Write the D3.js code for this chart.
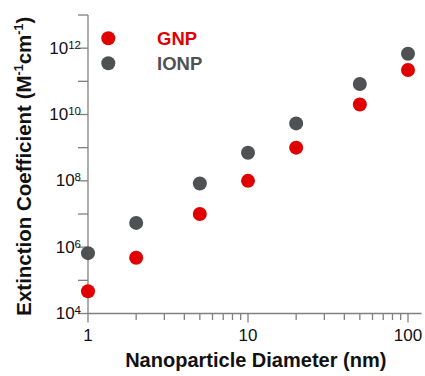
<!DOCTYPE html>
<html>
<head>
<meta charset="utf-8">
<script src="https://cdn.jsdelivr.net/npm/d3@7"></script>
<style>
  html, body { margin: 0; padding: 0; background: #fff; }
  svg { display: block; font-family: "Liberation Sans", Arial, sans-serif; }
</style>
</head>
<body>
<svg id="chart" width="425" height="376"></svg>
<script>
// ---- data ----
const diameters = [1, 2, 5, 10, 20, 50, 100];
const gnpValues = [4.7e4, 4.8e5, 1.0e7, 1.0e8, 1.0e9, 2.0e10, 2.2e11];
const ionpValues = [6.6e5, 5.4e6, 8.3e7, 7.0e8, 5.4e9, 8.3e10, 6.8e11];
const seriesNames = ["GNP", "IONP"];
const seriesColors = ["#e10000", "#505153"];
const xTickValues = [1, 10, 100];
const xTickLabels = ["1", "10", "100"];
const yTickExponents = [4, 6, 8, 10, 12];
const yMinorExponents = [5, 7, 9, 11, 13];
const xTitle = "Nanoparticle Diameter (nm)";

// ---- layout ----
const svg = d3.select("#chart");
const axisColor = "#808080";
const x = d3.scaleLog().domain([1, 100]).range([88, 408]);
const y = d3.scaleLog().domain([1e4, 1e13]).range([313.5, 15]);
const xEnd = 121.5;

// x axis
const xMinor = [];
for (let d = 1; d <= 1; d++) {}
[1, 10].forEach(b => { for (let k = 2; k <= 9; k++) xMinor.push(b * k); });

const gx = svg.append("g");
gx.append("line")
  .attr("x1", x(1)).attr("x2", x(xEnd))
  .attr("y1", y(1e4)).attr("y2", y(1e4))
  .attr("stroke", axisColor).attr("stroke-width", 1.3);
gx.selectAll(".xmaj").data(xTickValues).enter().append("line")
  .attr("x1", d => x(d)).attr("x2", d => x(d))
  .attr("y1", y(1e4)).attr("y2", y(1e4) + 9)
  .attr("stroke", axisColor).attr("stroke-width", 1.3);
gx.selectAll(".xmin").data(xMinor).enter().append("line")
  .attr("x1", d => x(d)).attr("x2", d => x(d))
  .attr("y1", y(1e4)).attr("y2", y(1e4) + 6.5)
  .attr("stroke", axisColor).attr("stroke-width", 1.3);
gx.selectAll(".xlab").data(xTickValues).enter().append("text")
  .attr("x", d => x(d)).attr("y", y(1e4) + 27)
  .attr("text-anchor", "middle")
  .attr("font-size", 17).attr("fill", "#111")
  .text((d, i) => xTickLabels[i]);

// y axis
const gy = svg.append("g");
gy.append("line")
  .attr("x1", x(1)).attr("x2", x(1))
  .attr("y1", y(1e13)).attr("y2", y(1e4))
  .attr("stroke", axisColor).attr("stroke-width", 1.3);
gy.selectAll(".ytk").data(yTickExponents.concat(yMinorExponents)).enter().append("line")
  .attr("x1", x(1) - 10).attr("x2", x(1))
  .attr("y1", d => y(Math.pow(10, d))).attr("y2", d => y(Math.pow(10, d)))
  .attr("stroke", axisColor).attr("stroke-width", 1.3);
const ylab = gy.selectAll(".ylab").data(yTickExponents).enter().append("text")
  .attr("x", x(1) - 7).attr("y", d => y(Math.pow(10, d)) + 5.5)
  .attr("text-anchor", "end")
  .attr("font-size", 17).attr("fill", "#111");
ylab.append("tspan").text("10");
ylab.append("tspan").attr("font-size", 11.5).attr("dy", -5).text(d => d);

// points
const series = [gnpValues, ionpValues];
series.forEach((vals, si) => {
  svg.append("g").selectAll("circle").data(vals).enter().append("circle")
    .attr("cx", (d, i) => x(diameters[i]))
    .attr("cy", d => y(d))
    .attr("r", 7)
    .attr("fill", seriesColors[si]);
});

// legend
const leg = svg.append("g");
seriesNames.forEach((name, i) => {
  leg.append("circle").attr("cx", 108.3).attr("cy", 38.3 + i * 25).attr("r", 7)
    .attr("fill", seriesColors[i]);
  leg.append("text").attr("x", 157).attr("y", 45 + i * 25)
    .attr("font-size", 18.5).attr("font-weight", "bold")
    .attr("fill", seriesColors[i]).text(name);
});

// axis titles
svg.append("text")
  .attr("x", (x(1) + x(xEnd)) / 2 + 1).attr("y", 367)
  .attr("text-anchor", "middle")
  .attr("font-size", 20).attr("font-weight", "bold").attr("fill", "#111")
  .text(xTitle);

const yt = svg.append("text")
  .attr("transform", "translate(31," + ((y(1e4) + y(1e13)) / 2 + 2) + ") rotate(-90)")
  .attr("text-anchor", "middle")
  .attr("font-size", 20.5).attr("font-weight", "bold").attr("fill", "#111");
yt.append("tspan").text("Extinction Coefficient (M");
yt.append("tspan").attr("font-size", 12.5).attr("dy", -8).text("-1");
yt.append("tspan").attr("dy", 8).text("cm");
yt.append("tspan").attr("font-size", 12.5).attr("dy", -8).text("-1");
yt.append("tspan").attr("dy", 8).text(")");
</script>
</body>
</html>
